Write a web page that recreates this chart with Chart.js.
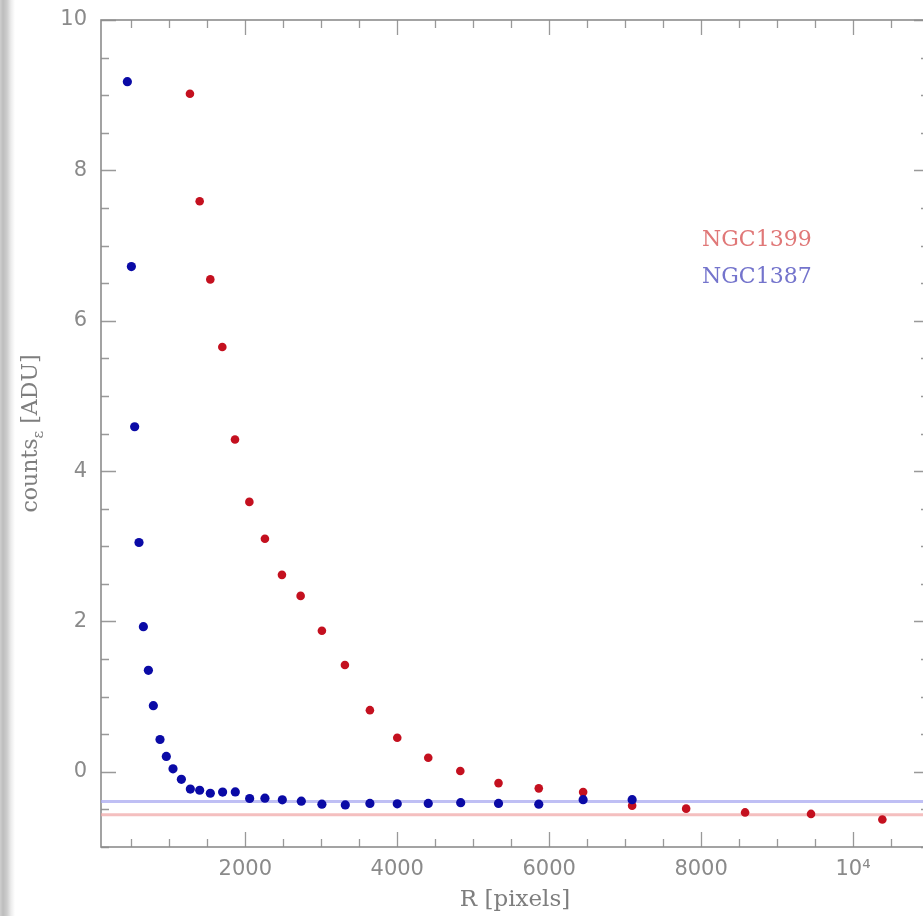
<!DOCTYPE html>
<html><head><meta charset="utf-8">
<script src="https://cdn.jsdelivr.net/npm/chart.js@4"></script>
<style>
html,body{margin:0;padding:0;background:#fff;overflow:hidden;width:923px;height:916px;}
#wrap{position:absolute;left:0;top:0;width:940px;height:916px;}
#shade{position:absolute;left:0;top:0;width:15px;height:916px;background:linear-gradient(to right,#cfcfcf 0px,#bdbdbd 3px,#cdcdcd 7px,#ececec 11px,#ffffff 15px);z-index:2;}
</style></head><body>
<div id="shade"></div>
<div id="wrap"><canvas id="c" width="940" height="916"></canvas></div>
<script>
// ---- data ----
const seriesNames = ['NGC1399', 'NGC1387'];
const redR      = [1271, 1399, 1539, 1697, 1864, 2053, 2258, 2482, 2728, 3008, 3311, 3640, 4000, 4408, 4830, 5333, 5863, 6447, 7092, 7803, 8579, 9447, 10386];
const redCounts = [9.02, 7.59, 6.55, 5.65, 4.42, 3.59, 3.10, 2.62, 2.34, 1.876, 1.42, 0.82, 0.453, 0.187, 0.01, -0.15, -0.22, -0.27, -0.45, -0.49, -0.54, -0.56, -0.635];
const blueR      = [447, 500, 543, 600, 658, 724, 789, 877, 960, 1048, 1158, 1276, 1399, 1539, 1701, 1868, 2057, 2258, 2487, 2737, 3008, 3316, 3640, 4000, 4408, 4835, 5333, 5863, 6447, 7092];
const blueCounts = [9.18, 6.72, 4.59, 3.05, 1.93, 1.35, 0.88, 0.43, 0.205, 0.04, -0.10, -0.23, -0.245, -0.285, -0.27, -0.267, -0.355, -0.35, -0.373, -0.39, -0.43, -0.44, -0.42, -0.426, -0.42, -0.41, -0.42, -0.43, -0.37, -0.37];
const skyLevels = [-0.57, -0.395]; // NGC1399, NGC1387
const xRange = [100, 11000];
const yRange = [-1, 10];
const xTickValues = [2000, 4000, 6000, 8000, 10000];
const xTickLabels = ['2000', '4000', '6000', '8000', '10\u2074'];
const yTickValues = [0, 2, 4, 6, 8, 10];
const yTickLabels = ['0', '2', '4', '6', '8', '10'];
const xMinorStep = 500, yMinorStep = 0.5;
const xTitle = 'R [pixels]';
const yTitleParts = ['counts', '\u03b5', ' [ADU]'];

const RED = '#c4101f', BLUE = '#0a0aa6';
const GREY = '#8a8a8a';

const pts = (xs, ys) => xs.map((x, i) => ({x: x, y: ys[i]}));
const hline = (v) => [{x: xRange[0], y: v}, {x: xRange[1], y: v}];

const framePlugin = {
  id: 'frame',
  beforeDatasetsDraw(chart) {
    const {ctx, chartArea: a, scales: {x, y}} = chart;
    ctx.save();
    ctx.strokeStyle = '#999';
    ctx.lineWidth = 1.3;
    ctx.beginPath();
    for (let v = Math.ceil(xRange[0] / xMinorStep) * xMinorStep; v <= xRange[1]; v += xMinorStep) {
      const px = Math.round(x.getPixelForValue(v)) + 0.5;
      const len = (v % 2000 === 0) ? 15 : 8;
      ctx.moveTo(px, a.bottom); ctx.lineTo(px, a.bottom - len);
      ctx.moveTo(px, a.top); ctx.lineTo(px, a.top + len);
    }
    for (let v = yRange[0]; v <= yRange[1] + 1e-9; v += yMinorStep) {
      const py = Math.round(y.getPixelForValue(v)) + 0.5;
      const len = (Math.abs(v % 2) < 1e-9) ? 15 : 8;
      ctx.moveTo(a.left, py); ctx.lineTo(a.left + len, py);
      ctx.moveTo(a.right, py); ctx.lineTo(a.right - len, py);
    }
    ctx.stroke();
    ctx.lineWidth = 1.6;
    ctx.strokeStyle = '#8c8c8c';
    ctx.strokeRect(a.left, a.top, a.right - a.left, a.bottom - a.top);
    ctx.restore();
  },
  afterDraw(chart) {
    const {ctx, chartArea: a} = chart;
    ctx.save();
    // y-axis title with subscript
    const big = '22px "DejaVu Serif"', small = '15px "DejaVu Serif"';
    ctx.font = big; const w0 = ctx.measureText(yTitleParts[0]).width;
    ctx.font = small; const w1 = ctx.measureText(yTitleParts[1]).width;
    ctx.font = big; const w2 = ctx.measureText(yTitleParts[2]).width;
    const total = w0 + w1 + w2;
    ctx.translate(37, (a.top + a.bottom) / 2);
    ctx.rotate(-Math.PI / 2);
    ctx.fillStyle = '#7e7e7e';
    ctx.textBaseline = 'alphabetic';
    ctx.textAlign = 'left';
    let sx = -total / 2;
    ctx.font = big; ctx.fillText(yTitleParts[0], sx, 0); sx += w0;
    ctx.font = small; ctx.fillText(yTitleParts[1], sx, 6); sx += w1;
    ctx.font = big; ctx.fillText(yTitleParts[2], sx, 0);
    ctx.restore();
    // legend (coloured text only)
    ctx.save();
    ctx.font = '22px "DejaVu Serif"';
    ctx.textAlign = 'left';
    ctx.textBaseline = 'alphabetic';
    const lx = a.left + 601;
    ctx.fillStyle = '#e07878'; ctx.fillText(seriesNames[0], lx, a.top + 226);
    ctx.fillStyle = '#7474cc'; ctx.fillText(seriesNames[1], lx, a.top + 263);
    ctx.restore();
  }
};

new Chart(document.getElementById('c'), {
  type: 'scatter',
  data: {
    datasets: [
      {label: seriesNames[1], data: pts(blueR, blueCounts), backgroundColor: BLUE, borderColor: BLUE, pointRadius: 4.6, borderWidth: 0, order: 1},
      {label: seriesNames[0], data: pts(redR, redCounts), backgroundColor: RED, borderColor: RED, pointRadius: 4.3, borderWidth: 0, order: 2},
      {type: 'line', label: 'sky ' + seriesNames[1], data: hline(skyLevels[1]), borderColor: 'rgba(170,170,240,0.75)', borderWidth: 3, pointRadius: 0, order: 3},
      {type: 'line', label: 'sky ' + seriesNames[0], data: hline(skyLevels[0]), borderColor: 'rgba(240,170,170,0.75)', borderWidth: 3, pointRadius: 0, order: 4}
    ]
  },
  options: {
    responsive: false,
    animation: false,
    devicePixelRatio: 1,
    layout: {padding: {left: 0, top: 20, right: 11, bottom: 0}},
    plugins: {legend: {display: false}, tooltip: {enabled: false}},
    scales: {
      x: {
        type: 'linear', min: xRange[0], max: xRange[1],
        grid: {display: false, drawTicks: false},
        border: {display: false},
        afterBuildTicks: s => { s.ticks = xTickValues.map(v => ({value: v})); },
        afterFit: s => { s.height = 69; s.paddingLeft = 0; s.paddingRight = 0; },
        ticks: {
          autoSkip: false, maxRotation: 0, padding: 10, color: GREY,
          font: {family: '"DejaVu Sans"', size: 21},
          callback: (v) => xTickLabels[xTickValues.indexOf(v)]
        },
        title: {display: true, text: xTitle, color: '#7e7e7e', font: {family: '"DejaVu Serif"', size: 23}, padding: {top: 0, bottom: 2}}
      },
      y: {
        type: 'linear', min: yRange[0], max: yRange[1],
        grid: {display: false, drawTicks: false},
        border: {display: false},
        afterBuildTicks: s => { s.ticks = yTickValues.map(v => ({value: v})); },
        afterFit: s => { s.width = 101; s.paddingTop = 0; s.paddingBottom = 0; },
        ticks: {
          autoSkip: false, padding: 14, color: GREY,
          font: {family: '"DejaVu Sans"', size: 21},
          callback: (v) => yTickLabels[yTickValues.indexOf(v)]
        }
      }
    }
  },
  plugins: [framePlugin]
});
</script>
</body></html>
